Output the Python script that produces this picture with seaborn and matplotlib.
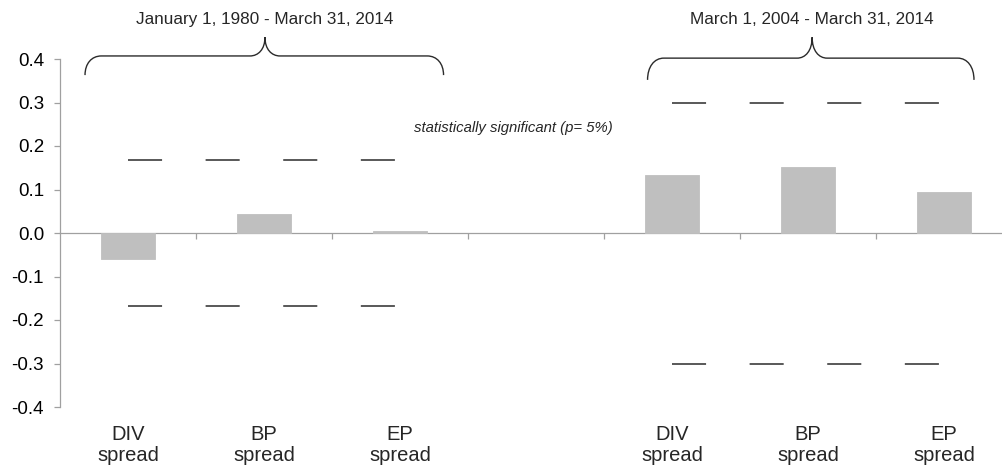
import matplotlib
matplotlib.use("Agg")
import matplotlib.pyplot as plt
import matplotlib.transforms as mtransforms
from matplotlib.path import Path
from matplotlib.patches import PathPatch
import numpy as np
import pandas as pd
import seaborn as sns

# ---- data ----
category_labels = ["DIV\nspread", "BP\nspread", "EP\nspread", "",
                   "DIV\nspread", "BP\nspread", "EP\nspread"]
bar_slots = [0, 1, 2, 4, 5, 6]
bar_values = [-0.060, 0.044, 0.004, 0.133, 0.152, 0.095]
sig_group1_slots = [0, 2]
sig_group1_level = 0.167
sig_group2_slots = [4, 6]
sig_group2_level = 0.300
period1_label = "January 1, 1980 - March 31, 2014"
period2_label = "March 1, 2004 - March 31, 2014"
sig_label = "statistically significant (p= 5%)"
y_ticks = [-0.4, -0.3, -0.2, -0.1, 0.0, 0.1, 0.2, 0.3, 0.4]

sns.set_theme(style="white")
plt.rcParams['font.family'] = ['Liberation Sans', 'DejaVu Sans']

fig = plt.figure(figsize=(10.02, 4.68), dpi=100)
ax = fig.add_axes([60 / 1002, 61 / 468, 942 / 1002, 348 / 468])

df = pd.DataFrame({"slot": bar_slots, "value": bar_values})
sns.barplot(data=df, x="slot", y="value", order=list(range(len(category_labels))),
            width=0.4, color="#bfbfbf", saturation=1, ax=ax, zorder=2,
            edgecolor="#bfbfbf", linewidth=0.6)

# significance dashed lines
line_kw = dict(color="#2b2b2b", lw=1.1, dashes=(22.3, 28.5), zorder=3)
for slots, lvl in [(sig_group1_slots, sig_group1_level), (sig_group2_slots, sig_group2_level)]:
    ax.plot(slots, [lvl, lvl], **line_kw)
    ax.plot(slots, [-lvl, -lvl], **line_kw)

ax.set_ylim(-0.4, 0.4)
ax.set_xlim(-0.5, 6.426)
ax.set_yticks(y_ticks)
ax.set_yticklabels([f"{v:.1f}" for v in y_ticks])
ax.set_xticks([i + 0.5 for i in range(6)])
ax.set_xticklabels([])
ax.set_xlabel("")
ax.set_ylabel("")

axis_color = "#a0a0a0"
for s in ["top", "right"]:
    ax.spines[s].set_visible(False)
ax.spines["left"].set_color(axis_color)
ax.spines["left"].set_linewidth(0.9)
ax.spines["bottom"].set_position(("data", 0))
ax.spines["bottom"].set_color(axis_color)
ax.spines["bottom"].set_linewidth(0.9)
ax.spines["bottom"].set_zorder(1)
ax.tick_params(axis="y", which="major", left=True, length=4, width=0.9,
               color=axis_color, labelsize=13.5, pad=7.5, labelcolor="#000000")
ax.tick_params(axis="x", which="major", bottom=True, length=4, width=0.9,
               color=axis_color, direction="out")

# category labels under the plot
trans = mtransforms.blended_transform_factory(ax.transData, ax.transAxes)
for i, lab in enumerate(category_labels):
    if lab:
        ax.text(i, -0.052, lab, transform=trans, ha="center", va="top",
                fontsize=14.5, linespacing=1.1)

# curly braces
def brace(xl, xr, xc, ye, yf, yt, r=0.12, rc=0.11):
    verts = [
        (xl, ye),
        (xl, ye + 0.6 * (yf - ye)), (xl + 0.4 * r, yf), (xl + r, yf),
        (xc - rc, yf),
        (xc - 0.45 * rc, yf), (xc, yf + 0.35 * (yt - yf)), (xc, yt),
        (xc, yf + 0.35 * (yt - yf)), (xc + 0.45 * rc, yf), (xc + rc, yf),
        (xr - r, yf),
        (xr - 0.4 * r, yf), (xr, ye + 0.6 * (yf - ye)), (xr, ye),
    ]
    codes = [Path.MOVETO,
             Path.CURVE4, Path.CURVE4, Path.CURVE4,
             Path.LINETO,
             Path.CURVE4, Path.CURVE4, Path.CURVE4,
             Path.CURVE4, Path.CURVE4, Path.CURVE4,
             Path.LINETO,
             Path.CURVE4, Path.CURVE4, Path.CURVE4]
    p = PathPatch(Path(verts, codes), fill=False, edgecolor="#2b2b2b", lw=1.0,
                  clip_on=False, transform=ax.transData, zorder=4)
    ax.add_patch(p)

brace(-0.316, 2.32, 1.007, 0.363, 0.407, 0.450)
brace(3.82, 6.22, 5.03, 0.352, 0.402, 0.450)

ax.text(1.007, 0.49, period1_label, ha="center", va="center", fontsize=12.3, clip_on=False)
ax.text(5.03, 0.49, period2_label, ha="center", va="center", fontsize=12.3, clip_on=False)
ax.text(2.83, 0.241, sig_label, ha="center", va="center", fontsize=10.7, style="italic")

fig.savefig("out.png", dpi=100)
